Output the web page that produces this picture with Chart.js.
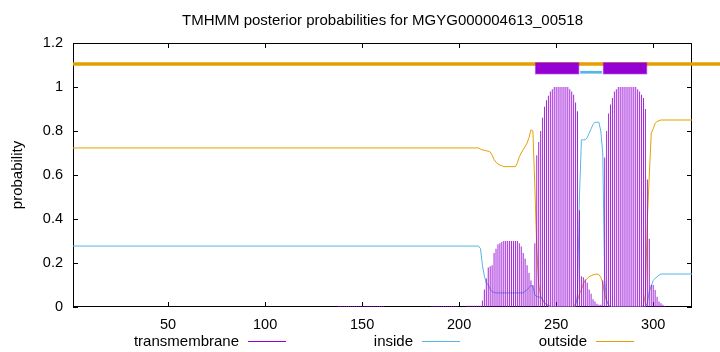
<!DOCTYPE html>
<html>
<head>
<meta charset="utf-8">
<script src="https://cdn.jsdelivr.net/npm/chart.js@4.4.1/dist/chart.umd.min.js"></script>
<style>
  html, body { margin: 0; padding: 0; background: #fff; }
  #wrap { width: 720px; height: 352px; }
</style>
</head>
<body>
<div id="wrap"><canvas id="plot" width="720" height="352"></canvas></div>
<script>
const chartTitle = "TMHMM posterior probabilities for MGYG000004613_00518";
const xTicks = [50, 100, 150, 200, 250, 300];
const yTicks = [0, 0.2, 0.4, 0.6, 0.8, 1, 1.2];

// transmembrane probability, one value per residue starting at tmStart
const tmStart = 138;
const tmProb = [
  0.004, 0.004, 0.004, 0.004, 0.004, 0.004, 0.004, 0.004, 0.004, 0.004, // 138
  0.004, 0.004, 0.004, 0.004, 0.004, 0.004, 0.004, 0.004, 0.004, 0.004, // 148
  0.004, 0.004, 0.004, 0.004, 0, 0, 0, 0, 0, 0,                         // 158
  0, 0, 0, 0, 0, 0, 0, 0, 0, 0,                                         // 168
  0, 0, 0, 0, 0, 0, 0, 0, 0.004, 0.004,                                 // 178
  0.004, 0.004, 0.004, 0.004, 0.004, 0.004, 0.004, 0.004, 0.004, 0.004, // 188
  0.004, 0.004, 0, 0, 0, 0, 0.006, 0.006, 0.006, 0.006,                 // 198
  0.006, 0.006, 0.006, 0.006, 0.03, 0.08, 0.13, 0.18, 0.185, 0.19,      // 208
  0.245, 0.265, 0.285, 0.29, 0.295, 0.3, 0.3, 0.3, 0.3, 0.3,            // 218
  0.3, 0.3, 0.3, 0.29, 0.275, 0.245, 0.22, 0.19, 0.155, 0.12,           // 228
  0.10, 0.29, 0.69, 0.75, 0.80, 0.86, 0.91, 0.94, 0.96, 0.98,           // 238
  0.99, 1, 1, 1, 1, 1, 1, 1, 1, 0.99,                                   // 248
  0.98, 0.965, 0.93, 0.89, 0.44, 0.14, 0.135, 0.125, 0.11, 0.08,        // 258
  0.06, 0.035, 0.025, 0.015, 0.01, 0.01, 0.12, 0.68, 0.8, 0.88,         // 268
  0.92, 0.95, 0.98, 0.99, 1, 1, 1, 1, 1, 1,                             // 278
  1, 1, 1, 1, 0.99, 0.98, 0.965, 0.95, 0.9, 0.58,                       // 288
  0.31, 0.10, 0.10, 0.077, 0.047, 0.025, 0.017, 0.01, 0.005             // 298
];

// inside probability
const insideX = [1, 210, 211, 212, 213, 214, 215, 216, 217, 218, 219, 233, 234, 235, 236, 237, 238, 239,
  240, 241, 242, 243, 244, 245, 246, 247, 248, 260, 261, 262, 263, 264, 265, 266, 267, 268, 269, 270,
  271, 272, 273, 274, 275, 276, 277, 278, 296, 297, 298, 299, 300, 301, 302, 303, 304, 320];
const insideY = [0.277, 0.277, 0.265, 0.19, 0.14, 0.11, 0.10, 0.08, 0.07, 0.066, 0.064, 0.064, 0.072, 0.078, 0.088, 0.098, 0.095, 0.055,
  0.047, 0.045, 0.045, 0.035, 0.02, 0.012, 0.008, 0.004, 0, 0, 0.06, 0.5, 0.76, 0.76, 0.76, 0.77, 0.79, 0.81, 0.83, 0.84,
  0.84, 0.84, 0.8, 0.7, 0.12, 0.03, 0.01, 0, 0, 0.02, 0.07, 0.095, 0.12, 0.13, 0.137, 0.145, 0.15, 0.15];

// outside probability
const outsideX = [1, 210, 211, 212, 213, 214, 215, 216, 217, 218, 219, 220, 221, 222, 223, 229, 230, 231, 232, 233, 234,
  235, 236, 237, 238, 239, 240, 241, 242, 243, 244, 245, 246, 247, 258, 259, 260, 261, 262, 263, 264, 265, 266,
  267, 268, 269, 270, 271, 272, 273, 274, 275, 276, 277, 278, 279, 294, 295, 296, 297, 298, 299, 300, 301, 302,
  303, 304, 320];
const outsideY = [0.723, 0.723, 0.718, 0.714, 0.712, 0.71, 0.708, 0.705, 0.69, 0.67, 0.658, 0.65, 0.645, 0.642, 0.638, 0.638, 0.655, 0.683, 0.70, 0.715, 0.729,
  0.745, 0.77, 0.805, 0.8, 0.55, 0.27, 0.1, 0.05, 0.03, 0.017, 0.01, 0.005, 0, 0, 0.005, 0.015, 0.03, 0.06, 0.08, 0.105, 0.12, 0.13,
  0.138, 0.142, 0.146, 0.148, 0.15, 0.148, 0.135, 0.11, 0.06, 0.025, 0.01, 0.003, 0, 0, 0.01, 0.06, 0.4, 0.6, 0.79, 0.81, 0.835, 0.843,
  0.847, 0.85, 0.85];

// predicted topology strip at the top
const topLineY = 1.105;
const topOutsideX = [1, 335];            // runs past the right border in the original
const helixStart = [239.4, 274.4];
const helixEnd = [261.6, 296.6];
const helixLow = 1.06, helixHigh = 1.11;
const topInsideX = [262.4, 273.6];
const topInsideY = 1.067;

const purple = "#9400d3", blue = "#56b4e9", orange = "#e69f00";
const font = "Liberation Sans, Arial, sans-serif";

const tmData = tmProb.map((v, i) => ({ x: tmStart + i, y: v }));
const insideData = insideX.map((x, i) => ({ x: x, y: insideY[i] }));
const outsideData = outsideX.map((x, i) => ({ x: x, y: outsideY[i] }));

const framePlugin = {
  id: "frame",
  beforeDatasetsDraw(chart) {
    const { ctx, chartArea: a, scales: { x, y } } = chart;
    ctx.save();
    ctx.strokeStyle = "#000";
    ctx.lineWidth = 1;
    ctx.strokeRect(a.left + 0.5, a.top + 0.5, a.right - a.left - 1, a.bottom - a.top - 1);
    ctx.beginPath();
    xTicks.forEach((v) => {
      const px = Math.round(x.getPixelForValue(v)) + 0.5;
      ctx.moveTo(px, a.bottom); ctx.lineTo(px, a.bottom - 5);
      ctx.moveTo(px, a.top); ctx.lineTo(px, a.top + 5);
    });
    yTicks.forEach((v) => {
      const py = Math.round(y.getPixelForValue(v)) + 0.5;
      ctx.moveTo(a.left, py); ctx.lineTo(a.left + 5, py);
      ctx.moveTo(a.right, py); ctx.lineTo(a.right - 5, py);
    });
    ctx.stroke();
    ctx.restore();
  },
  afterDatasetsDraw(chart) {
    const { ctx, scales: { x, y } } = chart;
    ctx.save();
    helixStart.forEach((s, i) => {
      const x0 = x.getPixelForValue(s), x1 = x.getPixelForValue(helixEnd[i]);
      const y0 = y.getPixelForValue(helixHigh), y1 = y.getPixelForValue(helixLow);
      ctx.fillStyle = "rgba(148,0,211,0.45)";
      ctx.fillRect(x0 - 0.7, y0 - 0.7, x1 - x0 + 1.4, y1 - y0 + 1.4);
      ctx.fillStyle = purple;
      ctx.fillRect(x0, y0, x1 - x0, y1 - y0);
    });
    ctx.restore();
  },
  afterDraw(chart) {
    const { ctx, chartArea: a } = chart;
    ctx.save();
    ctx.fillStyle = "#000";
    ctx.textBaseline = "middle";
    ctx.font = "15px " + font;
    ctx.textAlign = "center";
    ctx.fillText(chartTitle, (a.left + a.right) / 2, 20.5);

    ctx.save();
    ctx.translate(17.5, (a.top + a.bottom) / 2);
    ctx.rotate(-Math.PI / 2);
    ctx.fillText("probability", 0, 0);
    ctx.restore();

    const keys = [
      { label: "transmembrane", color: purple, end: 239 },
      { label: "inside", color: blue, end: 413 },
      { label: "outside", color: orange, end: 587 },
    ];
    ctx.textAlign = "right";
    keys.forEach((k) => {
      ctx.fillStyle = "#000";
      ctx.fillText(k.label, k.end, 341.5);
      ctx.strokeStyle = k.color;
      ctx.lineWidth = 1;
      ctx.beginPath();
      ctx.moveTo(k.end + 9, 341.5);
      ctx.lineTo(k.end + 47, 341.5);
      ctx.stroke();
    });
    ctx.restore();
  },
};

const ctx = document.getElementById("plot").getContext("2d");
new Chart(ctx, {
  type: "line",
  data: {
    datasets: [
      {
        type: "bar",
        label: "transmembrane",
        data: tmData,
        backgroundColor: "rgba(148,0,211,0.85)",
        barThickness: 1,
        inflateAmount: 0,
        grouped: false,
      },
      {
        label: "inside",
        data: insideData,
        borderColor: blue,
        borderWidth: 1,
        pointRadius: 0,
        fill: false,
      },
      {
        label: "outside",
        data: outsideData,
        borderColor: orange,
        borderWidth: 1,
        pointRadius: 0,
        fill: false,
      },
      {
        label: "top outside",
        data: topOutsideX.map((v) => ({ x: v, y: topLineY })),
        borderColor: orange,
        borderWidth: 3.5,
        pointRadius: 0,
        clip: false,
      },
      {
        label: "top inside",
        data: topInsideX.map((v) => ({ x: v, y: topInsideY })),
        borderColor: blue,
        borderWidth: 2.7,
        pointRadius: 0,
        borderCapStyle: "butt",
      },
    ],
  },
  options: {
    responsive: false,
    animation: false,
    layout: { padding: { top: 43, right: 28, left: 0, bottom: 0 } },
    scales: {
      x: {
        type: "linear",
        min: 1,
        max: 320,
        offset: false,
        afterBuildTicks: (s) => { s.ticks = xTicks.map((v) => ({ value: v })); },
        afterFit: (s) => { s.height = 45; },
        grid: { display: false, drawTicks: false },
        border: { display: false },
        ticks: { color: "#000", font: { family: font, size: 14.5 }, padding: 9, maxRotation: 0 },
      },
      y: {
        min: 0,
        max: 1.2,
        afterBuildTicks: (s) => { s.ticks = yTicks.map((v) => ({ value: v })); },
        afterFit: (s) => { s.width = 73; },
        grid: { display: false, drawTicks: false },
        border: { display: false },
        ticks: { color: "#000", font: { family: font, size: 14.5 }, padding: 10, callback: (v) => String(v) },
      },
    },
    plugins: { legend: { display: false }, tooltip: { enabled: false } },
  },
  plugins: [framePlugin],
});
</script>
</body>
</html>
